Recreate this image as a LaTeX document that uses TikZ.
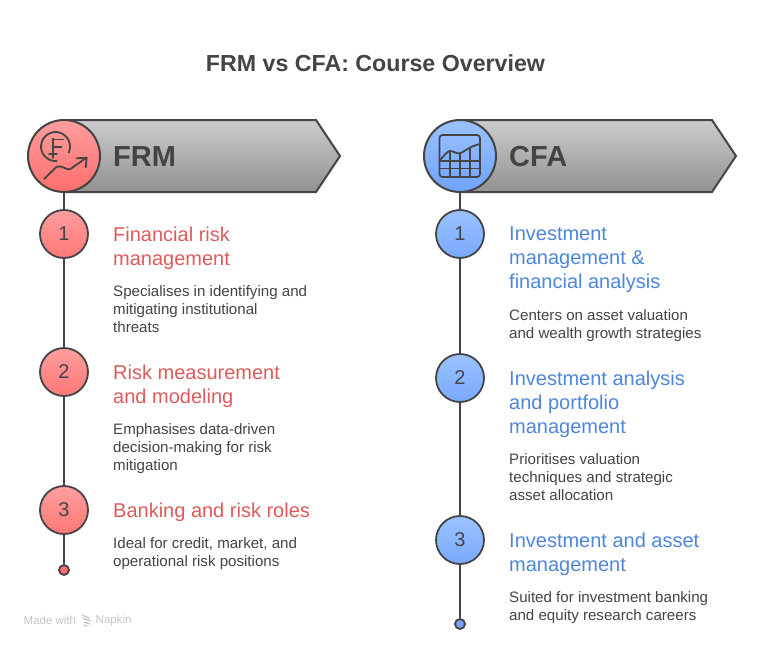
\documentclass[tikz,border=0pt]{standalone}
\usepackage{fontspec}
\setmainfont{Liberation Sans}
\definecolor{ink}{HTML}{444444}
\definecolor{redt}{HTML}{DE5B5B}
\definecolor{bluet}{HTML}{4E86DE}
\definecolor{wm}{HTML}{C4C4C4}
\definecolor{redhi}{HTML}{FF9E9E}
\definecolor{redlo}{HTML}{FF6E6E}
\definecolor{bluehi}{HTML}{9CC2FF}
\definecolor{bluelo}{HTML}{6FA3FF}
\tikzset{
  x=1pt,y=-1pt,
  chevron/.style={draw=ink,line width=2pt,top color=black!20,bottom color=black!43,line join=miter},
  bigred/.style={circle,draw=ink,line width=2pt,minimum size=72pt,inner sep=0,top color=redhi,bottom color=redlo},
  bigblue/.style={circle,draw=ink,line width=2pt,minimum size=72pt,inner sep=0,top color=bluehi,bottom color=bluelo},
  numred/.style={circle,draw=ink,line width=1.8pt,minimum size=48pt,inner sep=0,text=ink,font=\fontsize{20}{24}\selectfont,top color=redhi,bottom color=redlo!80!redhi},
  numblue/.style={circle,draw=ink,line width=1.8pt,minimum size=48pt,inner sep=0,text=ink,font=\fontsize{20}{24}\selectfont,top color=bluehi,bottom color=bluelo!80!bluehi},
  endred/.style={circle,draw=ink,line width=1.8pt,minimum size=10pt,inner sep=0,fill=redlo},
  endblue/.style={circle,draw=ink,line width=1.8pt,minimum size=10pt,inner sep=0,fill=bluelo},
  spine/.style={draw=ink,line width=2pt},
  icon/.style={draw=ink,line width=1.8pt,line cap=round,line join=round},
  head/.style={anchor=north west,inner sep=0,align=left,font=\fontsize{20}{24}\selectfont},
  body/.style={anchor=north west,inner sep=0,align=left,text=ink,font=\fontsize{15.1}{18}\selectfont},
  label/.style={anchor=west,inner sep=0,text=ink,font=\bfseries\fontsize{29}{34}\selectfont},
}
\begin{document}
\begin{tikzpicture}
\useasboundingbox (0,0) rectangle (760,648);
\fill[white] (0,0) rectangle (760,648);
\node[inner sep=0,text=ink,font=\bfseries\fontsize{23.2}{28}\selectfont] (title) at (375.5,63.5) {FRM vs CFA: Course Overview};
% FRM
\path[chevron] (64,120) -- (316,120) -- (340,156) -- (316,192) -- (64,192) -- cycle;
\node[bigred] (frm) at (64,156) {};
\node[numred] (r1) at (64,234) {\raisebox{-0.5pt}{1}};
\node[numred] (r2) at (64,372) {\raisebox{-0.5pt}{2}};
\node[numred] (r3) at (64,510) {\raisebox{-0.5pt}{3}};
\node[endred] (rend) at (64,570) {};
\draw[spine] (frm) -- (r1);
\draw[spine] (r1) -- (r2);
\draw[spine] (r2) -- (r3);
\draw[spine] (r3) -- (rend);
\node[label] (frmt) at (113,157) {FRM};
\node[head,text=redt] (rh1) at (113,226.5) {Financial risk\\management};
\node[body] (rb1) at (113,285) {Specialises in identifying and\\mitigating institutional\\threats};
\node[head,text=redt] (rh2) at (113,364.5) {Risk measurement\\and modeling};
\node[body] (rb2) at (113,423) {Emphasises data-driven\\decision-making for risk\\mitigation};
\node[head,text=redt] (rh3) at (113,502.5) {Banking and risk roles};
\node[body] (rb3) at (113,537) {Ideal for credit, market, and\\operational risk positions};
% FRM icon
\draw[icon] (56.8,161) arc[start angle=85,end angle=385,radius=14.5];
\draw[icon] (53.3,138.5) -- (53.3,158) (53.3,139.5) -- (63,139.5) (53.3,147) -- (61.5,147) (49,154) -- (57,154);
\draw[icon] (44,179) -- (56.7,166.7) .. controls (62,165) and (66,170) .. (70,169.3) -- (86,158);
\draw[icon] (76.7,158.3) -- (86.7,157.7) -- (85.7,167.3);
% CFA
\path[chevron] (460,120) -- (712,120) -- (736,156) -- (712,192) -- (460,192) -- cycle;
\node[bigblue] (cfa) at (460,156) {};
\node[numblue] (b1) at (460,234) {\raisebox{-0.5pt}{1}};
\node[numblue] (b2) at (460,378) {\raisebox{-0.5pt}{2}};
\node[numblue] (b3) at (460,540) {\raisebox{-0.5pt}{3}};
\node[endblue] (bend) at (460,624) {};
\draw[spine] (cfa) -- (b1);
\draw[spine] (b1) -- (b2);
\draw[spine] (b2) -- (b3);
\draw[spine] (b3) -- (bend);
\node[label] (cfat) at (509,157) {CFA};
\node[head,text=bluet] (bh1) at (509,226.5) {Investment\\management \&\\financial analysis};
\node[body] (bb1) at (509,309) {Centers on asset valuation\\and wealth growth strategies};
\node[head,text=bluet] (bh2) at (509,370.5) {Investment analysis\\and portfolio\\management};
\node[body] (bb2) at (509,453) {Prioritises valuation\\techniques and strategic\\asset allocation};
\node[head,text=bluet] (bh3) at (509,532.5) {Investment and asset\\management};
\node[body] (bb3) at (509,591) {Suited for investment banking\\and equity research careers};
% CFA icon
\draw[icon,rounded corners=3pt] (439.5,135) rectangle (480,177);
\draw[icon] (439.5,160.7) .. controls (444,156) and (447,151) .. (450,151) .. controls (454,151) and (456,154) .. (460,153.3) .. controls (464,152) and (470,146) .. (480,144);
\draw[icon] (439.5,160.7) -- (480,160.7) (439.5,168.5) -- (480,168.5);
\draw[icon] (449.7,151) -- (449.7,177) (459.7,153.3) -- (459.7,177) (469.7,148) -- (469.7,177);
% watermark
\node[anchor=west,inner sep=0,text=wm,font=\fontsize{11.5}{13}\selectfont] (made) at (23.5,620.5) {Made with};
\node[anchor=west,inner sep=0,text=wm,font=\fontsize{11.5}{13}\selectfont] (napkin) at (95.5,620.5) {Napkin};
\draw[wm,line width=1.3pt] (82,615) -- (89,618) (83,618.5) -- (91,621) (84,622) -- (90,624) (84,625) -- (87,626);
\end{tikzpicture}
\end{document}
